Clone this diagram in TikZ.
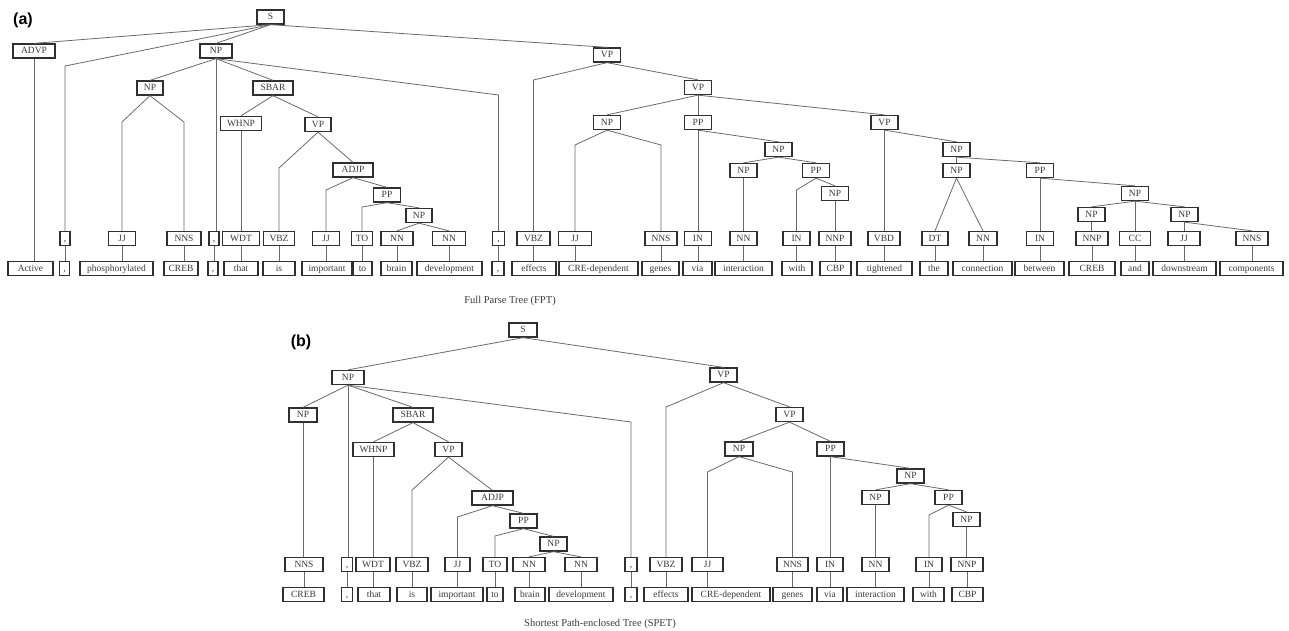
\documentclass[tikz,border=0pt]{standalone}
\usepackage{fontspec}
\setmainfont{Liberation Serif}
\newfontfamily\labfont{Liberation Sans}
\definecolor{boxc}{HTML}{303030}
\definecolor{txtc}{HTML}{3A3A3A}
\definecolor{edgec}{HTML}{6A6A6A}
\newcommand\mybox[5]{\node[box,minimum width=#4pt] (#1) at (#2,#3) {#5};}
\newcommand\leaf[7]{%
  \node[box,minimum width=#3pt] (p#1) at (#2,\posy) {#4};
  \node[box,minimum width=#6pt] (w#1) at (#5,\wy) {#7};
  \draw[e] (p#1.south) -- (p#1.south |- w#1.north);}
\begin{document}
\begin{tikzpicture}[x=1pt,y=-1pt,
  box/.style={draw=boxc,line width=1.3pt,text=txtc,fill=white,
    font=\fontsize{9.5}{10}\selectfont,inner xsep=2pt,inner ysep=0pt,
    text height=7pt,text depth=2pt,minimum height=14pt},
  e/.style={draw=edgec,line width=0.8pt},
  panel/.style={font=\labfont\bfseries\fontsize{16}{18}\selectfont,text=black,inner sep=0pt},
  captext/.style={font=\fontsize{10.5}{12}\selectfont,text=txtc,inner sep=0pt}]
\useasboundingbox (0,0) rectangle (1289,630);

% ---------------- (a) ----------------
\node[panel] (la) at (23,20) {(a)};
\def\posy{238.5}\def\wy{268.5}
\mybox{aS}{270.5}{17}{27}{S}
\mybox{aADVP}{34}{51}{42}{ADVP}
\mybox{aNP1}{216}{51}{32}{NP}
\mybox{aNP2}{150}{88}{26}{NP}
\mybox{aSBAR}{273}{88}{40}{SBAR}
\mybox{aWHNP}{241}{123.5}{41}{WHNP}
\mybox{aVP1}{318}{124.5}{26}{VP}
\mybox{aADJP}{353}{170}{40}{ADJP}
\mybox{aPP1}{387}{195}{27}{PP}
\mybox{aNP3}{419}{215.5}{26}{NP}
\mybox{aVP2}{607}{55}{27}{VP}
\mybox{aVP3}{698}{87.5}{27}{VP}
\mybox{aNP4}{607}{122.5}{27}{NP}
\mybox{aPP2}{698}{122.5}{27}{PP}
\mybox{aVP4}{884.5}{122.5}{27}{VP}
\mybox{aNP5}{778.5}{149.5}{27}{NP}
\mybox{aNP6}{743.5}{170.5}{27}{NP}
\mybox{aPP3}{816}{170.5}{27}{PP}
\mybox{aNP7}{835}{193.5}{27}{NP}
\mybox{aNP8}{956.5}{149.5}{27}{NP}
\mybox{aNP9}{956.5}{170.5}{27}{NP}
\mybox{aPP4}{1040}{170.5}{27}{PP}
\mybox{aNP10}{1135}{193.5}{27}{NP}
\mybox{aNP11}{1091.5}{214.5}{27}{NP}
\mybox{aNP12}{1184.5}{214.5}{27}{NP}

\node[box,minimum width=45pt] (wActive) at (30.5,\wy) {Active};
\leaf{a1}{65}{10}{,}{64.5}{10}{,}
\leaf{a2}{122}{27}{JJ}{116.5}{73}{phosphorylated}
\leaf{a3}{184}{34}{NNS}{181}{34}{CREB}
\leaf{a4}{214}{10}{,}{213}{10}{,}
\leaf{a5}{241}{37}{WDT}{241}{34}{that}
\leaf{a6}{279}{31}{VBZ}{279}{32}{is}
\leaf{a7}{326}{27}{JJ}{327}{50}{important}
\leaf{a8}{362}{21}{TO}{362.5}{19}{to}
\leaf{a9}{397}{32}{NN}{396.5}{31}{brain}
\leaf{a10}{449}{33}{NN}{449.5}{65}{development}
\leaf{a11}{498.5}{12}{,}{498}{12}{,}
\leaf{a12}{533.5}{33}{VBZ}{534}{44}{effects}
\leaf{a13}{575}{33}{JJ}{598.5}{79}{CRE-dependent}
\leaf{a14}{661}{32}{NNS}{660.5}{37}{genes}
\leaf{a15}{698}{27}{IN}{697.5}{29}{via}
\leaf{a16}{743.5}{27}{NN}{743.5}{57}{interaction}
\leaf{a17}{796.5}{27}{IN}{797}{30}{with}
\leaf{a18}{835}{32}{NNP}{835.5}{31}{CBP}
\leaf{a19}{884}{32}{VBD}{884.5}{55}{tightened}
\leaf{a20}{935}{26}{DT}{934}{28}{the}
\leaf{a21}{983}{28}{NN}{982.5}{59}{connection}
\leaf{a22}{1040}{27}{IN}{1039.5}{49}{between}
\leaf{a23}{1092}{32}{NNP}{1092}{46}{CREB}
\leaf{a24}{1135}{31}{CC}{1135}{28}{and}
\leaf{a25}{1184}{32}{JJ}{1184.5}{63}{downstream}
\leaf{a26}{1252}{32}{NNS}{1251.5}{63}{components}

\draw[e] (aS.south) -- (aADVP.north);
\draw[e] (aS.south) -- (pa1.north |- 0,66) -- (pa1.north);
\draw[e] (aS.south) -- (aNP1.north);
\draw[e] (aS.south) -- (aVP2.north);
\draw[e] (aADVP.south) -- (aADVP.south |- wActive.north);
\draw[e] (aNP1.south) -- (aNP2.north);
\draw[e] (aNP1.south) -- (aNP1.south |- pa4.north);
\draw[e] (aNP1.south) -- (aSBAR.north);
\draw[e] (aNP1.south) -- (pa11.north |- 0,95) -- (pa11.north);
\draw[e] (aNP2.south) -- (pa2.north |- 0,122) -- (pa2.north);
\draw[e] (aNP2.south) -- (pa3.north |- 0,122) -- (pa3.north);
\draw[e] (aSBAR.south) -- (aWHNP.north);
\draw[e] (aSBAR.south) -- (aVP1.north);
\draw[e] (aWHNP.south) -- (aWHNP.south |- pa5.north);
\draw[e] (aVP1.south) -- (pa6.north |- 0,168) -- (pa6.north);
\draw[e] (aVP1.south) -- (aADJP.north);
\draw[e] (aADJP.south) -- (pa7.north |- 0,190) -- (pa7.north);
\draw[e] (aADJP.south) -- (aPP1.north);
\draw[e] (aPP1.south) -- (pa8.north |- 0,207) -- (pa8.north);
\draw[e] (aPP1.south) -- (aNP3.north);
\draw[e] (aNP3.south) -- (pa9.north);
\draw[e] (aNP3.south) -- (pa10.north);
\draw[e] (aVP2.south) -- (pa12.north |- 0,80) -- (pa12.north);
\draw[e] (aVP2.south) -- (aVP3.north);
\draw[e] (aVP3.south) -- (aNP4.north);
\draw[e] (aVP3.south) -- (aPP2.north);
\draw[e] (aVP3.south) -- (aVP4.north);
\draw[e] (aNP4.south) -- (pa13.north |- 0,145) -- (pa13.north);
\draw[e] (aNP4.south) -- (pa14.north |- 0,145) -- (pa14.north);
\draw[e] (aPP2.south) -- (aPP2.south |- pa15.north);
\draw[e] (aPP2.south) -- (aNP5.north);
\draw[e] (aNP5.south) -- (aNP6.north);
\draw[e] (aNP5.south) -- (aPP3.north);
\draw[e] (aNP6.south) -- (aNP6.south |- pa16.north);
\draw[e] (aPP3.south) -- (pa17.north |- 0,190) -- (pa17.north);
\draw[e] (aPP3.south) -- (aNP7.north);
\draw[e] (aNP7.south) -- (aNP7.south |- pa18.north);
\draw[e] (aVP4.south) -- (aVP4.south |- pa19.north);
\draw[e] (aVP4.south) -- (aNP8.north);
\draw[e] (aNP8.south) -- (aNP9.north);
\draw[e] (aNP8.south) -- (aPP4.north);
\draw[e] (aNP9.south) -- (pa20.north);
\draw[e] (aNP9.south) -- (pa21.north);
\draw[e] (aPP4.south) -- (aPP4.south |- pa22.north);
\draw[e] (aPP4.south) -- (aNP10.north);
\draw[e] (aNP10.south) -- (aNP11.north);
\draw[e] (aNP10.south) -- (aNP10.south |- pa24.north);
\draw[e] (aNP10.south) -- (aNP12.north);
\draw[e] (aNP11.south) -- (aNP11.south |- pa23.north);
\draw[e] (aNP12.south) -- (aNP12.south |- pa25.north);
\draw[e] (aNP12.south) -- (pa26.north);

\node[captext] (capa) at (510,301) {Full Parse Tree (FPT)};

% ---------------- (b) ----------------
\node[panel] (lb) at (301,342) {(b)};
\def\posy{564.5}\def\wy{594.5}
\mybox{bS}{523}{330}{28}{S}
\mybox{bNP1}{348}{377.5}{32}{NP}
\mybox{bNP2}{303}{415}{28}{NP}
\mybox{bSBAR}{413}{415}{40}{SBAR}
\mybox{bWHNP}{373.5}{449.5}{41}{WHNP}
\mybox{bVP1}{448.5}{449.5}{27}{VP}
\mybox{bADJP}{492.5}{498}{41}{ADJP}
\mybox{bPP1}{523.5}{521}{27}{PP}
\mybox{bNP3}{553.5}{544}{27}{NP}
\mybox{bVP2}{723.5}{375}{27}{VP}
\mybox{bVP3}{789.5}{414.5}{27}{VP}
\mybox{bNP4}{739}{449}{28}{NP}
\mybox{bPP2}{830.5}{449}{27}{PP}
\mybox{bNP5}{910.5}{476}{27}{NP}
\mybox{bNP6}{875.5}{497.5}{27}{NP}
\mybox{bPP3}{948.5}{497.5}{27}{PP}
\mybox{bNP7}{966.5}{519.5}{27}{NP}

\leaf{b1}{304}{38}{NNS}{303.5}{41}{CREB}
\leaf{b2}{347}{11}{,}{347}{11}{,}
\leaf{b3}{373}{34}{WDT}{374}{32}{that}
\leaf{b4}{412}{32}{VBZ}{412}{30}{is}
\leaf{b5}{457.5}{25}{JJ}{457}{52}{important}
\leaf{b6}{495}{24}{TO}{495}{16}{to}
\leaf{b7}{529}{32}{NN}{530}{30}{brain}
\leaf{b8}{581}{32}{NN}{581}{64}{development}
\leaf{b9}{631}{12}{,}{631}{12}{,}
\leaf{b10}{666}{32}{VBZ}{666}{44}{effects}
\leaf{b11}{707.5}{31}{JJ}{731}{78}{CRE-dependent}
\leaf{b12}{792.5}{31}{NNS}{792.5}{39}{genes}
\leaf{b13}{830}{26}{IN}{830}{26}{via}
\leaf{b14}{875.5}{27}{NN}{875.5}{57}{interaction}
\leaf{b15}{929}{26}{IN}{928.5}{31}{with}
\leaf{b16}{967}{32}{NNP}{967.5}{31}{CBP}

\draw[e] (bS.south) -- (bNP1.north);
\draw[e] (bS.south) -- (bVP2.north);
\draw[e] (bNP1.south) -- (bNP2.north);
\draw[e] (bNP1.south) -- (bNP1.south |- pb2.north);
\draw[e] (bNP1.south) -- (bSBAR.north);
\draw[e] (bNP1.south) -- (pb9.north |- 0,422) -- (pb9.north);
\draw[e] (bNP2.south) -- (bNP2.south |- pb1.north);
\draw[e] (bSBAR.south) -- (bWHNP.north);
\draw[e] (bSBAR.south) -- (bVP1.north);
\draw[e] (bWHNP.south) -- (bWHNP.south |- pb3.north);
\draw[e] (bVP1.south) -- (pb4.north |- 0,490) -- (pb4.north);
\draw[e] (bVP1.south) -- (bADJP.north);
\draw[e] (bADJP.south) -- (pb5.north |- 0,517) -- (pb5.north);
\draw[e] (bADJP.south) -- (bPP1.north);
\draw[e] (bPP1.south) -- (pb6.north |- 0,536) -- (pb6.north);
\draw[e] (bPP1.south) -- (bNP3.north);
\draw[e] (bNP3.south) -- (pb7.north);
\draw[e] (bNP3.south) -- (pb8.north);
\draw[e] (bVP2.south) -- (pb10.north |- 0,407) -- (pb10.north);
\draw[e] (bVP2.south) -- (bVP3.north);
\draw[e] (bVP3.south) -- (bNP4.north);
\draw[e] (bVP3.south) -- (bPP2.north);
\draw[e] (bNP4.south) -- (pb11.north |- 0,472) -- (pb11.north);
\draw[e] (bNP4.south) -- (pb12.north |- 0,472) -- (pb12.north);
\draw[e] (bPP2.south) -- (bPP2.south |- pb13.north);
\draw[e] (bPP2.south) -- (bNP5.north);
\draw[e] (bNP5.south) -- (bNP6.north);
\draw[e] (bNP5.south) -- (bPP3.north);
\draw[e] (bNP6.south) -- (bNP6.south |- pb14.north);
\draw[e] (bPP3.south) -- (pb15.north |- 0,515) -- (pb15.north);
\draw[e] (bPP3.south) -- (bNP7.north);
\draw[e] (bNP7.south) -- (bNP7.south |- pb16.north);

\node[captext] (capb) at (600,624) {Shortest Path-enclosed Tree (SPET)};
\end{tikzpicture}
\end{document}
